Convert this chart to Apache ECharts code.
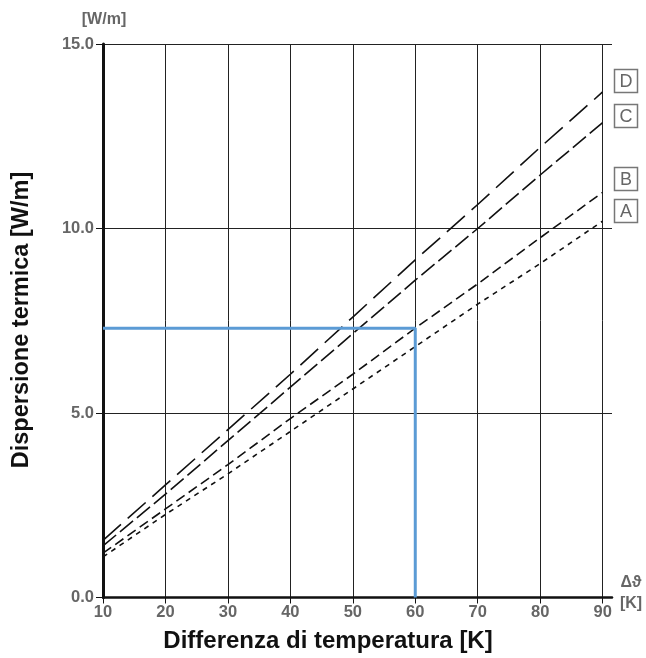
<!DOCTYPE html>
<html>
<head>
<meta charset="utf-8">
<script src="https://cdn.jsdelivr.net/npm/echarts@6/dist/echarts.min.js"></script>
<style>html,body{margin:0;padding:0;background:#fff;}#c{width:646px;height:658px;}</style>
</head>
<body>
<div id="c"></div>
<script>
const xTicks = [10, 20, 30, 40, 50, 60, 70, 80, 90];
const seriesA = [1.1, 2.25, 3.35, 4.5, 5.65, 6.8, 7.95, 9.05, 10.2];
const seriesB = [1.2, 2.4, 3.6, 4.85, 6.05, 7.3, 8.5, 9.75, 10.98];
const seriesC = [1.4, 2.8, 4.25, 5.7, 7.15, 8.6, 10.0, 11.45, 12.87];
const seriesD = [1.55, 3.05, 4.55, 6.05, 7.6, 9.15, 10.65, 12.2, 13.7];
const exampleX = [10, 60, 60];
const exampleY = [7.3, 7.3, 0];
const labelNames = ['D', 'C', 'B', 'A'];

const pair = (xs, ys) => xs.map((x, i) => [x, ys[i]]);
const FONT = '"Liberation Sans", Arial, sans-serif';

function curve(name, vals, dash) {
  return {
    name, type: 'line', data: pair(xTicks, vals), showSymbol: false, silent: true,
    lineStyle: { color: '#111', width: 1.6, type: dash }, z: 3
  };
}

const labelY = [81, 116, 179, 211];
const boxes = labelNames.map((t, i) => ({
  type: 'group', x: 626, y: labelY[i],
  children: [
    { type: 'rect', shape: { x: -11.5, y: -11.5, width: 23, height: 23 },
      style: { fill: '#fff', stroke: '#777', lineWidth: 1.5 } },
    { type: 'text', style: { text: t, x: 0, y: 1, align: 'center', verticalAlign: 'middle',
      font: '18px ' + FONT, fill: '#666' } }
  ]
}));

const chart = echarts.init(document.getElementById('c'), null, { renderer: 'canvas' });
chart.setOption({
  animation: false,
  backgroundColor: '#fff',
  grid: { left: 103, right: 34, top: 44, bottom: 60.5, containLabel: false },
  xAxis: {
    type: 'value', min: 10, max: 91.5,
    axisLine: { show: true, lineStyle: { color: '#111', width: 2.5 } },
    axisTick: { show: true, length: 6, inside: false, customValues: xTicks, lineStyle: { color: '#111', width: 1 } },
    axisLabel: { customValues: xTicks, color: '#666', fontWeight: 'bold', fontSize: 16.5, fontFamily: FONT, margin: 6 },
    splitLine: { show: true, lineStyle: { color: '#222', width: 1 } }
  },
  yAxis: {
    type: 'value', min: 0, max: 15, interval: 5,
    axisLine: { show: true, onZero: false, lineStyle: { color: '#111', width: 3 } },
    axisTick: { show: true, length: 7, lineStyle: { color: '#111', width: 1 } },
    axisLabel: { color: '#666', fontWeight: 'bold', fontSize: 16.5, fontFamily: FONT, margin: 9,
      formatter: v => v.toFixed(1) },
    splitLine: { show: true, lineStyle: { color: '#222', width: 1 } }
  },
  series: [
    curve('A', seriesA, [5, 5]),
    curve('B', seriesB, [10, 5]),
    curve('C', seriesC, [17, 5]),
    curve('D', seriesD, [24, 9]),
    { name: 'example', type: 'line', data: pair(exampleX, exampleY), showSymbol: false, silent: true,
      lineStyle: { color: '#5b9bd5', width: 3 }, z: 4 }
  ],
  graphic: [
    { type: 'text', x: 104, y: 20, style: { text: '[W/m]', align: 'center', verticalAlign: 'middle',
      font: 'bold 16px ' + FONT, fill: '#666' } },
    { type: 'text', x: 631, y: 583, style: { text: 'Δϑ', align: 'center', verticalAlign: 'middle',
      font: 'bold 16px ' + FONT, fill: '#666' } },
    { type: 'text', x: 631, y: 604, style: { text: '[K]', align: 'center', verticalAlign: 'middle',
      font: 'bold 16px ' + FONT, fill: '#666' } },
    { type: 'text', x: 328, y: 641, style: { text: 'Differenza di temperatura [K]', align: 'center', verticalAlign: 'middle',
      font: 'bold 24px ' + FONT, fill: '#111' } },
    { type: 'text', x: 22, y: 320, rotation: Math.PI / 2, style: { text: 'Dispersione termica [W/m]', align: 'center', verticalAlign: 'middle',
      font: 'bold 23.5px ' + FONT, fill: '#111' } }
  ].concat(boxes)
});
</script>
</body>
</html>
